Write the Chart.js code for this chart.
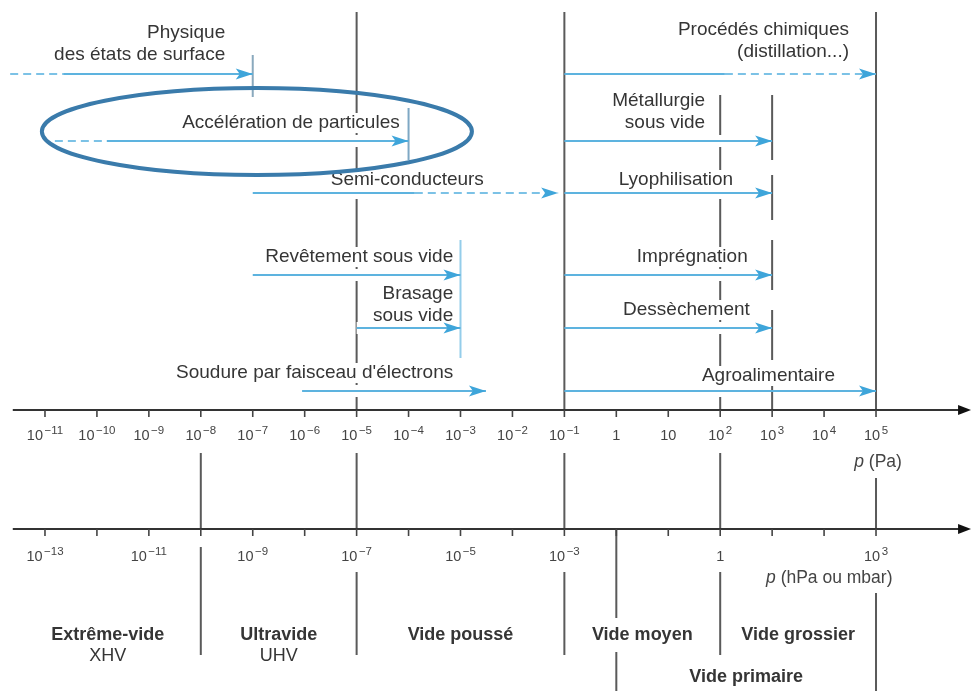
<!DOCTYPE html>
<html lang="fr">
<head>
<meta charset="utf-8">
<title>Domaines de pression du vide</title>
<script src="https://cdn.jsdelivr.net/npm/chart.js@4.4.1/dist/chart.umd.min.js"></script>
<style>
  html, body { margin: 0; padding: 0; background: #fff; }
  #wrap { width: 972px; height: 691px; }
</style>
</head>
<body>
<div id="wrap"><canvas id="vacuumChart"></canvas></div>
<script>
// ---- data -------------------------------------------------------------
const applications = [
  'Physique\ndes états de surface',
  'Accélération de particules',
  'Semi-conducteurs',
  'Procédés chimiques\n(distillation...)',
  'Métallurgie\nsous vide',
  'Lyophilisation',
  'Revêtement sous vide',
  'Brasage\nsous vide',
  "Soudure par faisceau d'électrons",
  'Imprégnation',
  'Dessèchement',
  'Agroalimentaire'
];
// pressure range of each application, in Pa
const pressureFrom = [10 ** -10.65, 10 ** -9.81, 1e-7, 1e-1, 1e-1, 1e-1, 1e-7, 1e-5, 10 ** -6.05, 1e-1, 1e-1, 1e-1];
const pressureTo = [1e-7, 1e-4, 10 ** -1.12, 1e5, 1e3, 1e3, 1e-3, 1e-3, 10 ** -2.51, 1e3, 1e3, 1e5];
// dashed extension towards low pressures (null = none)
const dashedBelow = [10 ** -11.67, 10 ** -10.81, null, null, null, null, null, null, null, null, null, null];
// pressure where the range turns dashed towards its upper end (null = none)
const dashedAbove = [null, null, 10 ** -3.88, 10 ** 2.09, null, null, null, null, null, null, null, null];
const appRow = [1, 2, 3, 1, 2, 3, 4, 5, 6, 4, 5, 6];

// tick exponents of the two pressure scales
const paExponents = [-11, -10, -9, -8, -7, -6, -5, -4, -3, -2, -1, 0, 1, 2, 3, 4, 5];
const hPaExponents = [-13, -12, -11, -10, -9, -8, -7, -6, -5, -4, -3, -2, -1, 0, 1, 2, 3];
const hPaLabelled = [-13, -11, -9, -7, -5, -3, 0, 3];

// vacuum classes, limits in hPa
const regimeNames = ['Extrême-vide', 'Ultravide', 'Vide poussé', 'Vide moyen', 'Vide grossier', 'Vide primaire'];
const regimeCodes = ['XHV', 'UHV', '', '', '', ''];
const regimeFrom = [10 ** -13.58, 1e-10, 1e-7, 1e-3, 1, 1e-2];
const regimeTo = [1e-10, 1e-7, 1e-3, 1, 1e3, 1e3];

// ---- layout (vertical levels, label placement) ------------------------
const rowLevel = { 1: 74, 2: 141, 3: 193, 4: 275, 5: 328, 6: 391 };
const labelRight = [10 ** -7.53, 10 ** -4.17, 10 ** -2.55, 10 ** 4.48, 10 ** 1.71, 10 ** 2.25,
  10 ** -3.14, 10 ** -3.14, 10 ** -3.14, 10 ** 2.53, 10 ** 2.57, 10 ** 4.21];
const labelLift = [19, 18, 13, 22, 18, 13, 18, 12, 18, 18, 18, 15];
const LINE_GAP = 22;
const AXIS_PA = 410, AXIS_HPA = 529;
const axisFrom = 10 ** -11.62, axisTip = 10 ** 6.83;
const regimeLevel = [635, 635, 635, 635, 635, 677];

const topGuides = [   // cut by the labels and arrows
  { pa: 1e-5, from: 12, to: AXIS_PA },
  { pa: 1e2, from: 95, to: AXIS_PA }
];
const fixedGuides = [
  { pa: 1e-1, from: 12, to: AXIS_PA },
  { pa: 1e5, from: 12, to: AXIS_PA },
  { pa: 1e3, from: 95, to: 160 }, { pa: 1e3, from: 175, to: 220 }, { pa: 1e3, from: 240, to: 290 },
  { pa: 1e3, from: 310, to: 360 }, { pa: 1e3, from: 380, to: AXIS_PA }
];
const limitBars = [
  { pa: 1e-7, from: 55, to: 97, color: '#8aa9bd' },
  { pa: 1e-4, from: 108, to: 160, color: '#7ea8c4' },
  { pa: 1e-3, from: 240, to: 358, color: '#94cdea' }
];
const boundaryLines = [
  { hPa: 1e-10, segs: [[453, AXIS_HPA], [547, 655]] },
  { hPa: 1e-7, segs: [[453, AXIS_HPA], [572, 655]] },
  { hPa: 1e-3, segs: [[453, AXIS_HPA], [572, 655]] },
  { hPa: 1e-2, segs: [[AXIS_HPA, 618], [652, 691]] },
  { hPa: 1, segs: [[453, AXIS_HPA], [572, 655]] },
  { hPa: 1e3, segs: [[478, AXIS_HPA], [593, 691]] }
];
const highlight = { from: 10 ** -11.06, to: 10 ** -2.78, top: 88, bottom: 175 };

const FONT = '"Liberation Sans", Arial, sans-serif';
const TEXT = '#353535';
const GREY = '#5a5a5a';
const BLUE = '#5db3df';
const BLUE_HEAD = '#3ea5da';

// ---- datasets ---------------------------------------------------------
const vline = (p, y0, y1, color, width, order) => ({
  data: [{ x: p, y: y0 }, { x: p, y: y1 }],
  showLine: true, borderColor: color, borderWidth: width, pointRadius: 0, order
});
const hline = (p0, p1, level, color, width, order, dash) => ({
  data: [{ x: p0, y: level }, { x: p1, y: level }],
  showLine: true, borderColor: color, borderWidth: width, pointRadius: 0, order,
  borderDash: dash || []
});

const datasets = [];
topGuides.forEach(g => datasets.push(vline(g.pa, g.from, g.to, GREY, 2, 5)));
applications.forEach((a, i) => {
  const lvl = rowLevel[appRow[i]];
  datasets.push(hline(dashedBelow[i] || pressureFrom[i], pressureTo[i], lvl, '#ffffff', 12, 4));
});
fixedGuides.forEach(g => datasets.push(vline(g.pa, g.from, g.to, GREY, 2, 3)));
limitBars.forEach(b => datasets.push(vline(b.pa, b.from, b.to, b.color, 2, 3)));
boundaryLines.forEach(b => b.segs.forEach(s => datasets.push(vline(b.hPa * 100, s[0], s[1], GREY, 2, 3))));
applications.forEach((a, i) => {
  const lvl = rowLevel[appRow[i]];
  if (dashedBelow[i]) datasets.push(hline(dashedBelow[i], pressureFrom[i], lvl, '#7cc2e6', 2, 2, [8, 5]));
  if (dashedAbove[i]) {
    datasets.push(hline(pressureFrom[i], dashedAbove[i], lvl, BLUE, 2, 2));
    datasets.push(hline(dashedAbove[i], pressureTo[i], lvl, '#7cc2e6', 2, 2, [8, 5]));
  } else {
    datasets.push(hline(pressureFrom[i], pressureTo[i], lvl, BLUE, 2, 2));
  }
});

// ---- drawing helpers --------------------------------------------------
function drawPower(ctx, exp, cx, baseline) {
  ctx.textAlign = 'left';
  ctx.textBaseline = 'alphabetic';
  ctx.font = '14.5px ' + FONT;
  if (exp === 0 || exp === 1) {
    const t = exp === 0 ? '1' : '10';
    ctx.fillText(t, cx - ctx.measureText(t).width / 2, baseline);
    return;
  }
  const sup = exp < 0 ? '\u2212' + (-exp) : String(exp);
  const wb = ctx.measureText('10').width;
  ctx.font = '11.5px ' + FONT;
  const ws = ctx.measureText(sup).width;
  const left = cx - (wb + ws + 1.5) / 2;
  ctx.font = '14.5px ' + FONT;
  ctx.fillText('10', left, baseline);
  ctx.font = '11.5px ' + FONT;
  ctx.fillText(sup, left + wb + 1.5, baseline - 6);
}

function drawUnit(ctx, unit, cx, cy) {
  ctx.textBaseline = 'middle';
  ctx.textAlign = 'left';
  ctx.font = 'italic 17.5px ' + FONT;
  const wp = ctx.measureText('p').width;
  ctx.font = '17.5px ' + FONT;
  const wu = ctx.measureText(' ' + unit).width;
  const left = cx - (wp + wu) / 2;
  ctx.font = 'italic 17.5px ' + FONT;
  ctx.fillText('p', left, cy);
  ctx.font = '17.5px ' + FONT;
  ctx.fillText(' ' + unit, left + wp, cy);
}

const vacuumDecor = {
  id: 'vacuumDecor',
  afterDatasetsDraw(chart) {
    const { ctx, scales: { x, y } } = chart;
    const X = v => x.getPixelForValue(v);
    const Y = v => y.getPixelForValue(v);
    ctx.save();

    // application labels on a white ground (interrupts the grey guides)
    ctx.font = '19px ' + FONT;
    ctx.textAlign = 'right';
    ctx.textBaseline = 'middle';
    applications.forEach((name, i) => {
      const lines = name.split('\n');
      const right = X(labelRight[i]);
      const last = rowLevel[appRow[i]] - labelLift[i];
      lines.forEach((t, k) => {
        const yy = Y(last - (lines.length - 1 - k) * LINE_GAP);
        const w = ctx.measureText(t).width;
        ctx.fillStyle = '#fff';
        ctx.fillRect(right - w - 3, yy - 10, w + 6, 20);
        ctx.fillStyle = TEXT;
        ctx.fillText(t, right, yy);
      });
    });

    // arrow heads
    ctx.fillStyle = BLUE_HEAD;
    applications.forEach((a, i) => {
      const tx = X(pressureTo[i]), ty = Y(rowLevel[appRow[i]]);
      ctx.beginPath();
      ctx.moveTo(tx, ty);
      ctx.lineTo(tx - 17, ty - 5.5);
      ctx.lineTo(tx - 13, ty);
      ctx.lineTo(tx - 17, ty + 5.5);
      ctx.closePath();
      ctx.fill();
    });

    // the two pressure axes
    [AXIS_PA, AXIS_HPA].forEach(level => {
      const yy = Y(level);
      ctx.strokeStyle = '#333';
      ctx.lineWidth = 2;
      ctx.beginPath();
      ctx.moveTo(X(axisFrom), yy);
      ctx.lineTo(X(axisTip) - 8, yy);
      ctx.stroke();
      ctx.fillStyle = '#111';
      ctx.beginPath();
      ctx.moveTo(X(axisTip), yy);
      ctx.lineTo(X(axisTip) - 13, yy - 5);
      ctx.lineTo(X(axisTip) - 13, yy + 5);
      ctx.closePath();
      ctx.fill();
    });
    ctx.strokeStyle = '#444';
    ctx.lineWidth = 1.6;
    paExponents.forEach(e => {
      ctx.beginPath();
      ctx.moveTo(X(10 ** e), Y(AXIS_PA));
      ctx.lineTo(X(10 ** e), Y(AXIS_PA + 7));
      ctx.stroke();
    });
    hPaExponents.forEach(e => {
      ctx.beginPath();
      ctx.moveTo(X(10 ** (e + 2)), Y(AXIS_HPA));
      ctx.lineTo(X(10 ** (e + 2)), Y(AXIS_HPA + 7));
      ctx.stroke();
    });

    ctx.fillStyle = '#444';
    paExponents.forEach(e => drawPower(ctx, e, X(10 ** e), Y(AXIS_PA + 30)));
    hPaLabelled.forEach(e => drawPower(ctx, e, X(10 ** (e + 2)), Y(AXIS_HPA + 32)));

    drawUnit(ctx, '(Pa)', X(10 ** 5.04), Y(462));
    drawUnit(ctx, '(hPa ou mbar)', X(10 ** 4.1), Y(578));

    // vacuum classes
    ctx.textAlign = 'center';
    ctx.textBaseline = 'middle';
    ctx.fillStyle = TEXT;
    regimeNames.forEach((n, i) => {
      const cx = (X(regimeFrom[i] * 100) + X(regimeTo[i] * 100)) / 2;
      ctx.font = 'bold 18px ' + FONT;
      ctx.fillText(n, cx, Y(regimeLevel[i]));
      if (regimeCodes[i]) {
        ctx.font = '18px ' + FONT;
        ctx.fillText(regimeCodes[i], cx, Y(regimeLevel[i] + 21));
      }
    });

    // highlight ring
    const x0 = X(highlight.from), x1 = X(highlight.to);
    const y0 = Y(highlight.top), y1 = Y(highlight.bottom);
    ctx.strokeStyle = '#3a7bab';
    ctx.lineWidth = 4;
    ctx.beginPath();
    ctx.ellipse((x0 + x1) / 2, (y0 + y1) / 2, (x1 - x0) / 2, (y1 - y0) / 2, 0, 0, Math.PI * 2);
    ctx.stroke();

    ctx.restore();
  }
};

function createVacuumChart() {
  const ctx = document.getElementById('vacuumChart');
  new Chart(ctx, {
    type: 'scatter',
    data: { datasets: datasets },
    options: {
      animation: false,
      responsive: true,
      maintainAspectRatio: false,
      layout: { padding: 0 },
      scales: {
        x: {
          type: 'logarithmic',
          display: false,
          bounds: 'data',
          min: 10 ** -11.866,
          max: 10 ** 6.848
        },
        y: {
          type: 'linear',
          display: false,
          reverse: true,
          min: 0,
          max: 691
        }
      },
      plugins: {
        legend: { display: false },
        tooltip: { enabled: false }
      }
    },
    plugins: [vacuumDecor]
  });
}

document.addEventListener('DOMContentLoaded', () => {
  createVacuumChart();
});
</script>
</body>
</html>
